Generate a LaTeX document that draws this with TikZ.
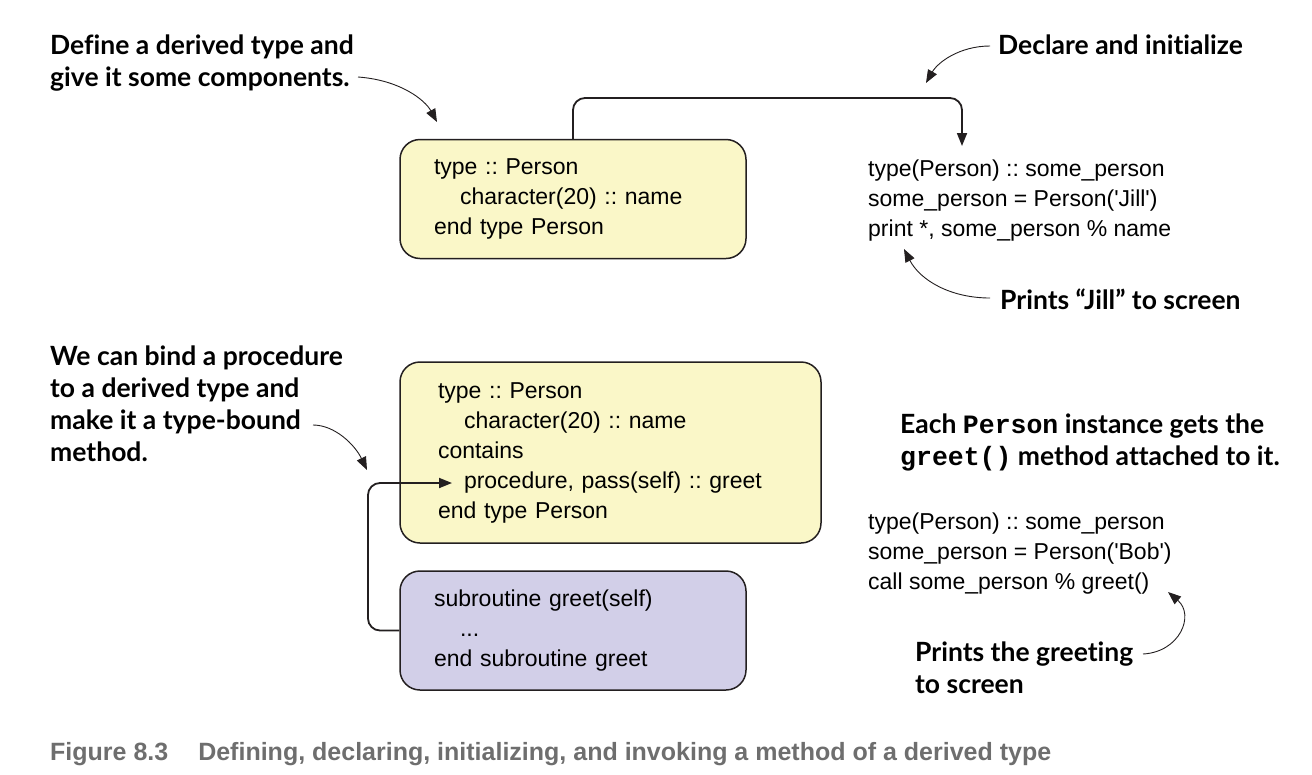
\documentclass[tikz,border=0pt]{standalone}
\usepackage{fontspec}
\usetikzlibrary{arrows.meta}
\setmainfont{Liberation Sans}
\newfontfamily\codefont{Liberation Sans}
\newfontfamily\annfont{Lato}[Ligatures={NoCommon,NoContextual}]
\newfontfamily\monobold{Liberation Mono}
\newfontfamily\capfont{Liberation Sans}
\definecolor{ybox}{HTML}{FAF7C8}
\definecolor{pbox}{HTML}{D2CFE8}
\definecolor{boxline}{HTML}{231F20}
\definecolor{capgray}{HTML}{6E6E6E}
\frenchspacing
\begin{document}
\frenchspacing
\begin{tikzpicture}[x=1pt,y=-1pt,
  codebox/.style={draw=boxline, line width=1.5pt, rounded corners=20pt, align=left,
     inner ysep=0pt, font=\codefont\frenchspacing\fontsize{23}{30}\selectfont},
  codetxt/.style={anchor=base west, inner sep=0pt, align=left, font=\codefont\frenchspacing\fontsize{23}{30}\selectfont},
  anntxt/.style={anchor=base west, inner sep=0pt, align=left, font=\annfont\bfseries\frenchspacing\fontsize{26.5}{32}\selectfont},
  conn/.style={draw=boxline, line width=1.8pt, rounded corners=12pt, -{Triangle[length=13pt,width=10pt]}},
  annarrow/.style={draw=boxline, line width=0.9pt, -{Triangle[length=13pt,width=10pt]}}
]
\useasboundingbox (0,0) rectangle (1312,774);

% boxes
\node[codebox, fill=ybox, text width=278pt, inner xsep=34pt, minimum width=346pt, minimum height=119pt] (box1) at (573,199)
 {type :: Person\\ \hspace*{26pt}character(20) :: name\\ end type Person};
\path (573,138) coordinate (box1top);
\node[codebox, fill=ybox, text width=345pt, inner xsep=38pt, minimum width=421pt, minimum height=181pt] (box2) at (610.5,452.5)
 {type :: Person\\ \hspace*{26pt}character(20) :: name\\ contains\\ \hspace*{26pt}procedure, pass(self) :: greet\\ end type Person};
\node[codebox, fill=pbox, text width=278pt, inner xsep=34pt, minimum width=346pt, minimum height=119pt] (box3) at (573,630.5)
 {subroutine greet(self)\\ \hspace*{26pt}...\\ end subroutine greet};

% code blocks (anchor = baseline of last line)
\node[codetxt] (code1) at (868,236) {type(Person) :: some\_person\\ some\_person = Person('Jill')\\ print *, some\_person \% name};
\node[codetxt] (code2) at (868,589) {type(Person) :: some\_person\\ some\_person = Person('Bob')\\ call some\_person \% greet()};

% annotations (anchor = baseline of last line)
\node[anntxt] (def) at (50,86) {Define a derived type and\\ give it some components.};
\node[anntxt] (decl) at (998,54) {Declare and initialize};
\node[anntxt] (jill) at (1000,309) {Prints “Jill” to screen};
\node[anntxt] (bind) at (50,461) {We can bind a procedure\\ to a derived type and\\ make it a type-bound\\ method.};
\node[anntxt] (each) at (900,465) {Each {\monobold\bfseries Person} instance gets the\\ {\monobold\bfseries greet()} method attached to it.};
\node[anntxt] (greet) at (915,693) {Prints the greeting\\ to screen};

% caption
\node[anchor=base west, inner sep=0pt, text=capgray, font=\capfont\bfseries\fontsize{25}{28}\selectfont] (cap) at (50,760)
 {Figure 8.3\hspace{30pt}Defining, declaring, initializing, and invoking a method of a derived type};

% connectors
\coordinate (jt) at (962,146);
\draw[conn] (box1.north) -- (573,98) -- (962,98) -- (jt);
\coordinate (pt) at (452,483);
\draw[conn] (box3.west) -- (368,630.5) -- (368,483) -- (pt);

% annotation arrows
\coordinate (a1s) at (358,77); \coordinate (a1e) at (437,122);
\draw[annarrow] (a1s) .. controls (400,80) and (425,100) .. (a1e);
\coordinate (a2s) at (990,46); \coordinate (a2e) at (926,83);
\draw[annarrow] (a2s) .. controls (960,46) and (938,62) .. (a2e);
\coordinate (a3s) at (990,298); \coordinate (a3e) at (904,249);
\draw[annarrow] (a3s) .. controls (950,298) and (920,280) .. (a3e);
\coordinate (a4s) at (313,425); \coordinate (a4e) at (367,470);
\draw[annarrow] (a4s) .. controls (335,425) and (355,445) .. (a4e);
\coordinate (a5s) at (1143,654); \coordinate (a5e) at (1168,592);
\draw[annarrow] (a5s) .. controls (1180,652) and (1195,615) .. (a5e);
\end{tikzpicture}
\end{document}
